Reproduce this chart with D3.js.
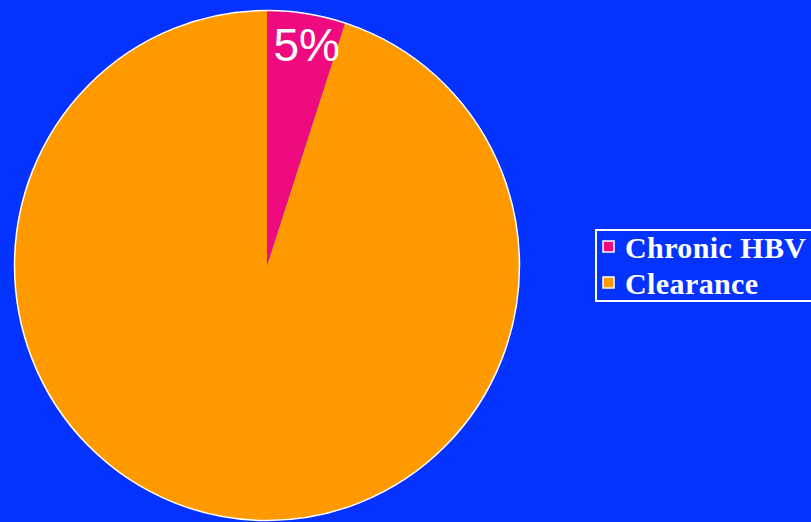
<!DOCTYPE html>
<html>
<head>
<meta charset="utf-8">
<script src="https://cdn.jsdelivr.net/npm/d3@7"></script>
<style>
  html, body { margin: 0; padding: 0; background: #0433ff; overflow: hidden; }
</style>
</head>
<body>
<div id="chart"></div>
<script>
// chart data
var categories = ["Chronic HBV", "Clearance"];
var values = [5, 95];
var colors = ["#f00a80", "#ff9900"];

var width = 811, height = 522;
var cx = 267, cy = 265.5, radius = 254;

var svg = d3.select("#chart").append("svg")
  .attr("width", width)
  .attr("height", height);

svg.append("rect")
  .attr("width", width).attr("height", height)
  .attr("fill", "#0433ff");

var color = d3.scaleOrdinal().domain(categories).range(colors);

var pie = d3.pie().sort(null).value(function(d) { return d.value; });
var data = categories.map(function(c, i) { return {label: c, value: values[i]}; });

var arc = d3.arc().innerRadius(0).outerRadius(radius);

// pie is a touch taller than wide in the original
var g = svg.append("g").attr("transform", "translate(" + cx + "," + cy + ")scale(0.994,1.004)");

var total = d3.sum(values);
var arcs = pie(data);

g.selectAll("path.slice")
  .data(arcs)
  .enter().append("path")
  .attr("class", "slice")
  .attr("d", arc)
  .attr("fill", function(d) { return color(d.data.label); })
  .attr("stroke", "none");

// thin white rim round the pie
g.append("circle")
  .attr("r", radius)
  .attr("fill", "none")
  .attr("stroke", "#ffffff")
  .attr("stroke-width", 1.5);

// only the small slice gets a label, near the rim
var labelArc = d3.arc().innerRadius(radius * 0.875).outerRadius(radius * 0.875);
svg.selectAll("text.pct")
  .data(arcs.filter(function(d) { return d.data.value / total < 0.5; }))
  .enter().append("text")
  .attr("class", "pct")
  .attr("x", function(d) { return cx + labelArc.centroid(d)[0] + 5; })
  .attr("y", function(d) { return cy + labelArc.centroid(d)[1] + 3; })
  .attr("text-anchor", "middle")
  .attr("dominant-baseline", "middle")
  .attr("fill", "#ffffff")
  .style("font-family", "'Liberation Sans', Arial, sans-serif")
  .style("font-size", "46px")
  .text(function(d) { return Math.round(d.data.value / total * 100) + "%"; });

// legend
var legend = svg.append("g").attr("transform", "translate(596,230)");
legend.append("rect")
  .attr("width", 240).attr("height", 71)
  .attr("fill", "none")
  .attr("stroke", "#ffffff")
  .attr("stroke-width", 2);

var item = legend.selectAll("g.item")
  .data(categories)
  .enter().append("g")
  .attr("class", "item")
  .attr("transform", function(d, i) { return "translate(0," + (i * 36) + ")"; });

item.append("rect")
  .attr("x", 7).attr("y", 11)
  .attr("width", 11).attr("height", 11)
  .attr("fill", function(d) { return color(d); })
  .attr("stroke", "#ffffff")
  .attr("stroke-width", 1.5);

item.append("text")
  .attr("x", 29).attr("y", 27.5)
  .attr("fill", "#ffffff")
  .style("font-family", "'Liberation Serif', 'Times New Roman', serif")
  .style("font-weight", "bold")
  .style("font-size", "30px")
  .style("letter-spacing", "0.4px")
  .text(function(d) { return d; });
</script>
</body>
</html>
